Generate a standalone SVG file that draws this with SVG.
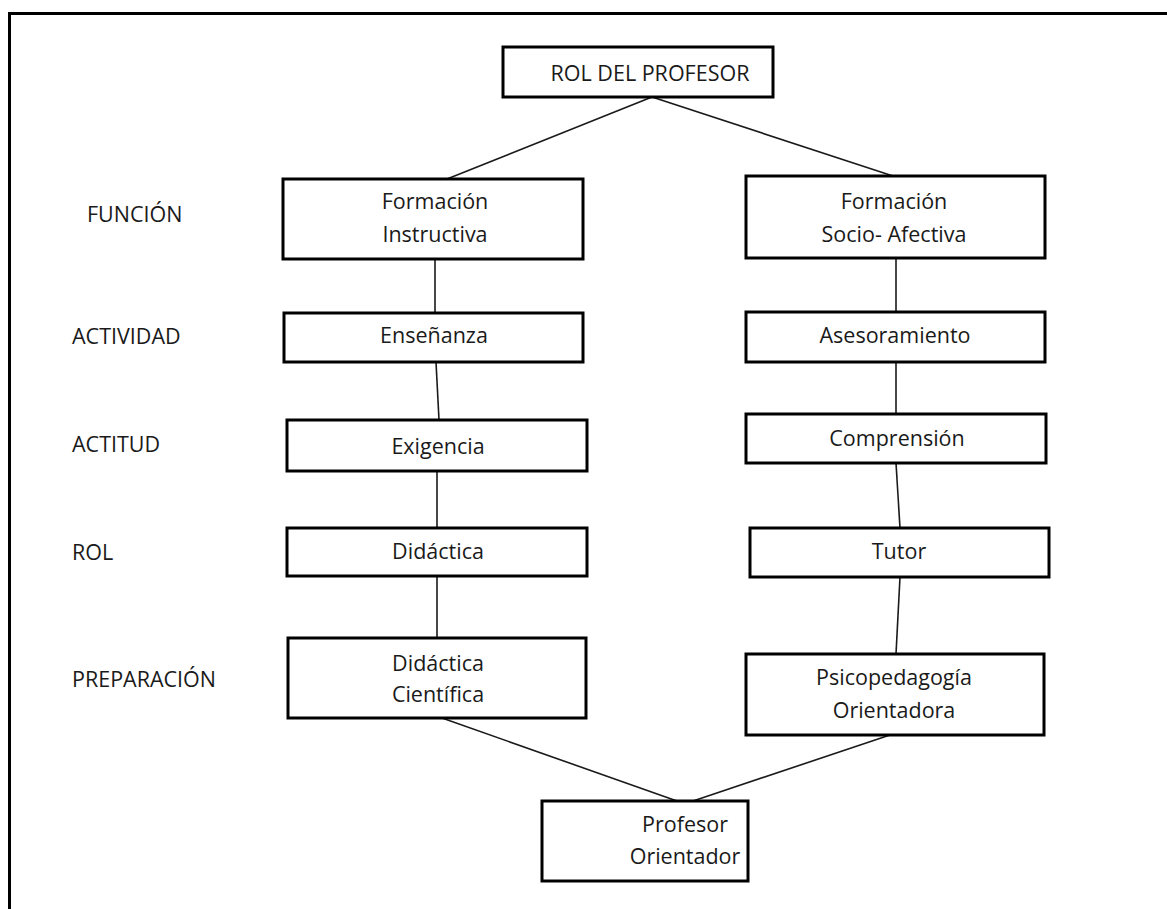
<svg xmlns="http://www.w3.org/2000/svg" width="1167" height="909" viewBox="0 0 1167 909">
<style>
.box{fill:#fff;stroke:#000;stroke-width:3}
.t{font-family:"Open Sans","Noto Sans","Liberation Sans",sans-serif;font-size:21.5px;fill:#1a1a1a;text-anchor:middle}
.lbl{font-family:"Open Sans","Noto Sans","Liberation Sans",sans-serif;font-size:21.5px;fill:#1a1a1a}
.c{stroke:#1a1a1a;stroke-width:1.6;fill:none}
</style>
<rect x="0" y="0" width="1167" height="909" fill="#fff"/>
<rect x="9.5" y="13.5" width="1175" height="910" fill="none" stroke="#000" stroke-width="3"/>
<g id="connectors">
<line class="c" x1="652" y1="97" x2="447" y2="179"/>
<line class="c" x1="652" y1="97" x2="893" y2="176"/>
<line class="c" x1="435" y1="259" x2="435" y2="313"/>
<line class="c" x1="896" y1="258" x2="896" y2="312"/>
<line class="c" x1="436" y1="362" x2="439" y2="420"/>
<line class="c" x1="896" y1="362" x2="896" y2="414"/>
<line class="c" x1="437" y1="471" x2="437" y2="528"/>
<line class="c" x1="896" y1="463" x2="900" y2="528"/>
<line class="c" x1="437" y1="576" x2="437" y2="638"/>
<line class="c" x1="900" y1="577" x2="896" y2="654"/>
<line class="c" x1="442" y1="718" x2="677" y2="801"/>
<line class="c" x1="890" y1="735" x2="693" y2="801"/>
</g>
<g id="labels">
<text class="lbl" x="87" y="222">FUNCIÓN</text>
<text class="lbl" x="72" y="344">ACTIVIDAD</text>
<text class="lbl" x="72" y="452">ACTITUD</text>
<text class="lbl" x="72" y="560">ROL</text>
<text class="lbl" x="72" y="687">PREPARACIÓN</text>
</g>
<g id="rol-profesor"><rect class="box" x="503" y="47" width="270" height="50"/><text class="t" x="650" y="81">ROL DEL PROFESOR</text></g>
<g id="formacion-instructiva"><rect class="box" x="283" y="179" width="300" height="80"/><text class="t" x="435" y="209">Formación</text><text class="t" x="435" y="242">Instructiva</text></g>
<g id="formacion-socio"><rect class="box" x="746" y="176" width="299" height="82"/><text class="t" x="894" y="209">Formación</text><text class="t" x="894" y="242">Socio- Afectiva</text></g>
<g id="ensenanza"><rect class="box" x="284" y="313" width="299" height="49"/><text class="t" x="434" y="343">Enseñanza</text></g>
<g id="asesoramiento"><rect class="box" x="746" y="312" width="299" height="50"/><text class="t" x="895" y="343">Asesoramiento</text></g>
<g id="exigencia"><rect class="box" x="287" y="420" width="300" height="51"/><text class="t" x="438" y="454">Exigencia</text></g>
<g id="comprension"><rect class="box" x="746" y="414" width="300" height="49"/><text class="t" x="897" y="446">Comprensión</text></g>
<g id="didactica"><rect class="box" x="287" y="528" width="300" height="48"/><text class="t" x="438" y="559">Didáctica</text></g>
<g id="tutor"><rect class="box" x="750" y="528" width="299" height="49"/><text class="t" x="899" y="559">Tutor</text></g>
<g id="didactica-cientifica"><rect class="box" x="288" y="638" width="298" height="80"/><text class="t" x="438" y="671">Didáctica</text><text class="t" x="438" y="702">Científica</text></g>
<g id="psicopedagogia"><rect class="box" x="746" y="654" width="298" height="81"/><text class="t" x="894" y="685">Psicopedagogía</text><text class="t" x="894" y="718">Orientadora</text></g>
<g id="profesor-orientador"><rect class="box" x="542" y="801" width="206" height="80"/><text class="t" x="685" y="832">Profesor</text><text class="t" x="685" y="864">Orientador</text></g>
</svg>
